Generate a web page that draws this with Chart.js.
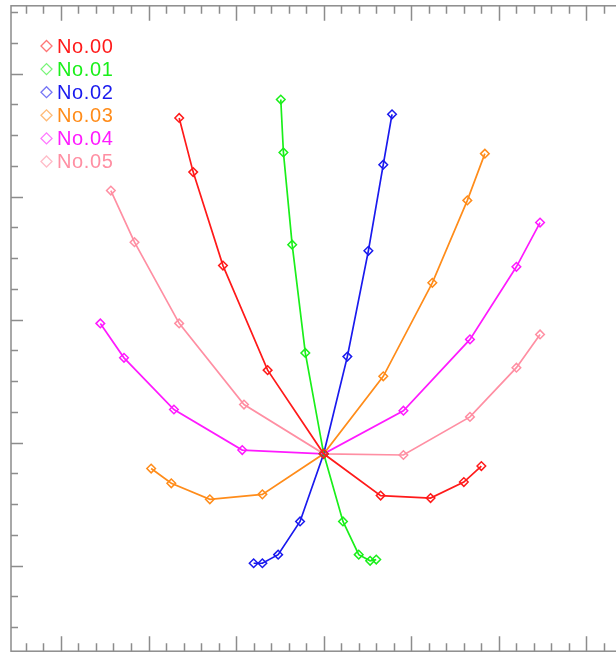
<!DOCTYPE html>
<html>
<head>
<meta charset="utf-8">
<script src="https://cdn.jsdelivr.net/npm/chart.js@4.4.1/dist/chart.umd.min.js"></script>
<style>
  html, body { margin: 0; padding: 0; background: #fff; overflow: hidden; }
  #wrap { position: absolute; left: 0; top: 0; width: 650px; height: 657px; }
</style>
</head>
<body>
<div id="wrap"><canvas id="chart" width="650" height="657"></canvas></div>
<script>
// series names and colours
const labels = ["No.00", "No.01", "No.02", "No.03", "No.04", "No.05"];
const colors = ["#ff1a1a", "#1aef1a", "#1a1aee", "#ff8c1a", "#ff1aff", "#ff8fa3"];

// one arm -> centre -> other arm
const x00 = [-1.65, -1.49, -1.15, -0.64, 0, 0.65, 1.22, 1.60, 1.80];
const y00 = [2.64, 2.20, 1.44, 0.59, -0.09, -0.43, -0.45, -0.32, -0.19];
const x01 = [-0.49, -0.46, -0.36, -0.21, 0, 0.22, 0.40, 0.53, 0.60];
const y01 = [2.79, 2.36, 1.61, 0.73, -0.09, -0.64, -0.91, -0.96, -0.95];
const x02 = [0.78, 0.68, 0.51, 0.27, 0, -0.27, -0.52, -0.70, -0.80];
const y02 = [2.67, 2.26, 1.56, 0.70, -0.09, -0.64, -0.91, -0.98, -0.98];
const x03 = [1.84, 1.64, 1.24, 0.68, 0, -0.70, -1.30, -1.74, -1.97];
const y03 = [2.35, 1.97, 1.30, 0.54, -0.09, -0.42, -0.46, -0.33, -0.21];
const x04 = [2.47, 2.20, 1.67, 0.91, 0, -0.93, -1.71, -2.28, -2.55];
const y04 = [1.79, 1.43, 0.84, 0.26, -0.09, -0.06, 0.27, 0.69, 0.97];
const x05 = [2.47, 2.20, 1.67, 0.91, 0, -0.91, -1.65, -2.16, -2.43];
const y05 = [0.88, 0.61, 0.21, -0.10, -0.09, 0.31, 0.97, 1.63, 2.05];

// axis ranges and tick steps
const xRange = [-3.57, 3.57];
const yRange = [-1.695, 3.552];
const xMajor = 1, xMinor = 0.2;
const yMajor = 1, yMinor = 0.25;

const seriesX = [x00, x01, x02, x03, x04, x05];
const seriesY = [y00, y01, y02, y03, y04, y05];

const datasets = labels.map((name, i) => ({
    label: name,
    data: seriesX[i].map((x, j) => ({ x: x, y: seriesY[i][j] })),
    showLine: true,
    borderColor: colors[i],
    borderWidth: 1.7,
    pointStyle: "rectRot",
    pointRadius: 4.3,
    pointBorderWidth: 1.5,
    pointBorderColor: colors[i],
    pointBackgroundColor: "rgba(0,0,0,0)",
    tension: 0,
}));

// IDL style box with inward ticks
const frameTicks = {
    id: "frameTicks",
    afterDraw(chart) {
        const ctx = chart.ctx;
        const a = chart.chartArea;
        const sx = chart.scales.x, sy = chart.scales.y;
        ctx.save();
        ctx.strokeStyle = "#8c8c8c";
        ctx.lineWidth = 1.5;
        ctx.strokeRect(a.left, a.top, a.right - a.left, a.bottom - a.top);
        ctx.beginPath();
        const nx0 = Math.ceil(xRange[0] / xMinor - 1e-6);
        const nx1 = Math.floor(xRange[1] / xMinor + 1e-6);
        for (let n = nx0; n <= nx1; n++) {
            const v = n * xMinor;
            const major = Math.abs(v / xMajor - Math.round(v / xMajor)) < 1e-6;
            const len = major ? 15 : 8;
            const px = Math.round(sx.getPixelForValue(v)) + 0.5;
            ctx.moveTo(px, a.bottom); ctx.lineTo(px, a.bottom - len);
            ctx.moveTo(px, a.top); ctx.lineTo(px, a.top + len);
        }
        const ny0 = Math.ceil(yRange[0] / yMinor - 1e-6);
        const ny1 = Math.floor(yRange[1] / yMinor + 1e-6);
        for (let n = ny0; n <= ny1; n++) {
            const v = n * yMinor;
            const major = Math.abs(v / yMajor - Math.round(v / yMajor)) < 1e-6;
            const len = major ? 12 : 7;
            const py = Math.round(sy.getPixelForValue(v)) + 0.5;
            ctx.moveTo(a.left, py); ctx.lineTo(a.left + len, py);
            ctx.moveTo(a.right, py); ctx.lineTo(a.right - len, py);
        }
        ctx.stroke();

        // legend inside the plot, top left
        ctx.font = "20px 'Liberation Sans', Arial, sans-serif";
        ctx.letterSpacing = "0.6px";
        ctx.textBaseline = "middle";
        chart.data.datasets.forEach((ds, i) => {
            const cy = 46 + i * 23.1;
            const cx = 46.5;
            ctx.globalAlpha = 0.6;
            ctx.strokeStyle = ds.borderColor;
            ctx.lineWidth = 1.3;
            ctx.beginPath();
            ctx.moveTo(cx - 5.5, cy); ctx.lineTo(cx, cy - 5.5);
            ctx.lineTo(cx + 5.5, cy); ctx.lineTo(cx, cy + 5.5);
            ctx.closePath();
            ctx.stroke();
            ctx.globalAlpha = 1;
            ctx.fillStyle = ds.borderColor;
            ctx.fillText(ds.label, 57, cy + 1);
        });
        ctx.restore();
    },
};

new Chart(document.getElementById("chart"), {
    type: "scatter",
    data: { datasets: datasets },
    options: {
        responsive: false,
        animation: false,
        layout: { padding: { left: 11, top: 5, right: 13.6, bottom: 2 } },
        plugins: { legend: { display: false }, tooltip: { enabled: false } },
        scales: {
            x: { type: "linear", min: xRange[0], max: xRange[1], display: false },
            y: { type: "linear", min: yRange[0], max: yRange[1], display: false },
        },
    },
    plugins: [frameTicks],
});
</script>
</body>
</html>
